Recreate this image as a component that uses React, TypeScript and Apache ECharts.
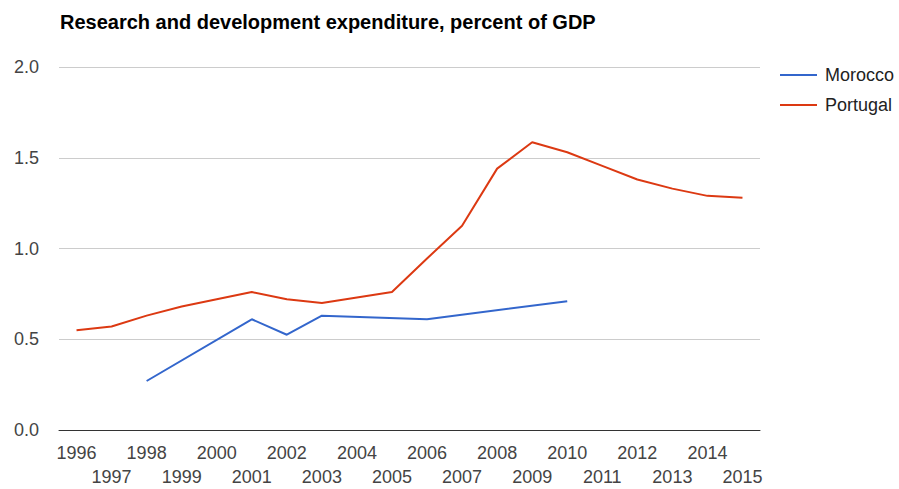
import React, { useEffect, useRef } from "react";
import * as echarts from "echarts";

const years = ["1996","1997","1998","1999","2000","2001","2002","2003","2004","2005","2006","2007","2008","2009","2010","2011","2012","2013","2014","2015"];
const morocco = [null, null, 0.27, null, null, 0.61, 0.525, 0.63, null, null, 0.61, null, null, null, 0.71, null, null, null, null, null];
const portugal = [0.55, 0.57, 0.63, 0.68, 0.72, 0.76, 0.72, 0.70, 0.73, 0.76, 0.945, 1.125, 1.44, 1.585, 1.53, 1.455, 1.38, 1.33, 1.29, 1.28];
const yTicks = [0, 0.5, 1.0, 1.5, 2.0];

export default function App() {
  const ref = useRef<HTMLDivElement>(null);
  useEffect(() => {
    const chart = echarts.init(ref.current!, null, { renderer: "svg" });
    chart.setOption({
      animation: false,
      textStyle: { fontFamily: "Liberation Sans, Arial, sans-serif" },
      title: {
        text: "Research and development expenditure, percent of GDP",
        left: 55,
        top: 7,
        textStyle: { fontSize: 20, fontWeight: "bold", color: "#000", fontFamily: "Liberation Sans, Arial, sans-serif" },
      },
      legend: {
        orient: "vertical",
        left: 775,
        top: 61,
        itemGap: 12,
        itemWidth: 37,
        itemHeight: 2,
        icon: "rect",
        textStyle: { fontSize: 18, color: "#222", padding: [0, 0, 0, 3] },
        data: ["Morocco", "Portugal"],
      },
      grid: { left: 59, right: 139, top: 67, bottom: 56, containLabel: false },
      xAxis: {
        type: "category",
        data: years,
        boundaryGap: true,
        axisLine: { lineStyle: { color: "#333", width: 1 } },
        axisTick: { show: false },
        axisLabel: {
          interval: 0,
          color: "#444",
          fontSize: 18,
          margin: 11,
          lineHeight: 24,
          formatter: (v: string, i: number) => (i % 2 ? "\n" + v : v),
        },
      },
      yAxis: {
        type: "value",
        min: yTicks[0],
        max: yTicks[yTicks.length - 1],
        interval: 0.5,
        axisLine: { show: false },
        axisTick: { show: false },
        splitLine: { lineStyle: { color: "#cccccc", width: 1 } },
        axisLabel: {
          color: "#444",
          fontSize: 18,
          margin: 20,
          formatter: (v: number) => v.toFixed(1),
        },
      },
      series: [
        {
          name: "Morocco",
          type: "line",
          data: morocco,
          connectNulls: true,
          showSymbol: false,
          symbol: "none",
          lineStyle: { color: "#3366cc", width: 2 },
          itemStyle: { color: "#3366cc" },
        },
        {
          name: "Portugal",
          type: "line",
          data: portugal,
          showSymbol: false,
          symbol: "none",
          lineStyle: { color: "#dc3912", width: 2 },
          itemStyle: { color: "#dc3912" },
        },
      ],
    });
    return () => chart.dispose();
  }, []);
  return <div ref={ref} style={{ width: 899, height: 489, position: "absolute", left: 0, top: 0 }} />;
}
